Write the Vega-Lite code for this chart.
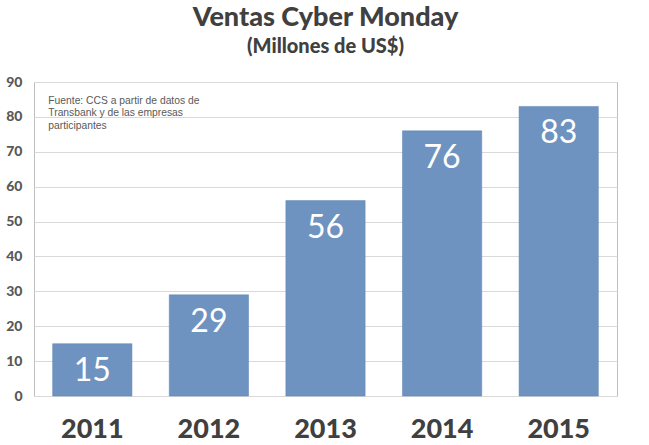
{
  "$schema": "https://vega.github.io/schema/vega-lite/v6.json",
  "autosize": {"type": "none"},
  "padding": {"left": 34, "top": 82, "right": 32, "bottom": 49},
  "width": 583,
  "height": 314,
  "background": "white",
  "title": {
    "text": "Ventas Cyber Monday",
    "subtitle": "(Millones de US$)",
    "font": "Lato",
    "fontSize": 27,
    "fontWeight": 900,
    "color": "#404040",
    "subtitleFont": "Lato",
    "subtitleFontSize": 20,
    "subtitleFontWeight": 900,
    "subtitleColor": "#404040",
    "subtitlePadding": 5,
    "anchor": "middle",
    "offset": 17
  },
  "config": {
    "view": {"stroke": "#bfbfbf", "strokeWidth": 1}
  },
  "data": {
    "values": [
      {"year": "2011", "sales": 15},
      {"year": "2012", "sales": 29},
      {"year": "2013", "sales": 56},
      {"year": "2014", "sales": 76},
      {"year": "2015", "sales": 83}
    ]
  },
  "layer": [
    {
      "mark": {"type": "bar", "color": "#6f93c0", "stroke": "#5f84b3", "strokeWidth": 0.5},
      "encoding": {
        "x": {
          "field": "year", "type": "nominal", "sort": null,
          "scale": {"paddingInner": 0.32, "paddingOuter": 0.16},
          "axis": {
            "title": null, "labelAngle": 0, "labelFont": "Lato", "labelFontWeight": 900,
            "labelFontSize": 27, "labelColor": "#404040", "labelPadding": 20,
            "ticks": false, "domain": false
          }
        },
        "y": {
          "field": "sales", "type": "quantitative",
          "scale": {"domain": [0, 90], "nice": false},
          "axis": {
            "title": null, "values": [0,10,20,30,40,50,60,70,80,90],
            "labelOverlap": false,
            "labelFont": "Lato", "labelFontWeight": 900, "labelFontSize": 14,
            "labelColor": "#595959", "labelPadding": 12, "ticks": false,
            "domain": false, "gridColor": "#d9d9d9", "gridWidth": 1
          }
        }
      }
    },
    {
      "mark": {"type": "text", "baseline": "top", "dy": 12, "color": "white", "font": "Lato", "fontSize": 32},
      "encoding": {
        "x": {"field": "year", "type": "nominal", "sort": null},
        "y": {
          "field": "sales", "type": "quantitative",
          "axis": {
            "title": null, "values": [0,10,20,30,40,50,60,70,80,90],
            "labelOverlap": false,
            "labelFont": "Lato", "labelFontWeight": 900, "labelFontSize": 14,
            "labelColor": "#595959", "labelPadding": 12, "ticks": false,
            "domain": false, "gridColor": "#d9d9d9", "gridWidth": 1
          }
        },
        "text": {"field": "sales", "type": "quantitative"}
      }
    },
    {
      "data": {"values": [{"note": ["Fuente: CCS a partir de datos de", "Transbank y de las empresas", "participantes"]}]},
      "mark": {"type": "text", "align": "left", "baseline": "top", "dx": -44, "color": "#595959", "font": "Liberation Sans", "fontSize": 10.3, "lineHeight": 12.5},
      "encoding": {
        "x": {"datum": "2011", "type": "nominal"},
        "y": {
          "datum": 86, "type": "quantitative",
          "axis": {
            "title": null, "values": [0,10,20,30,40,50,60,70,80,90],
            "labelOverlap": false,
            "labelFont": "Lato", "labelFontWeight": 900, "labelFontSize": 14,
            "labelColor": "#595959", "labelPadding": 12, "ticks": false,
            "domain": false, "gridColor": "#d9d9d9", "gridWidth": 1
          }
        },
        "text": {"field": "note"}
      }
    }
  ]
}
